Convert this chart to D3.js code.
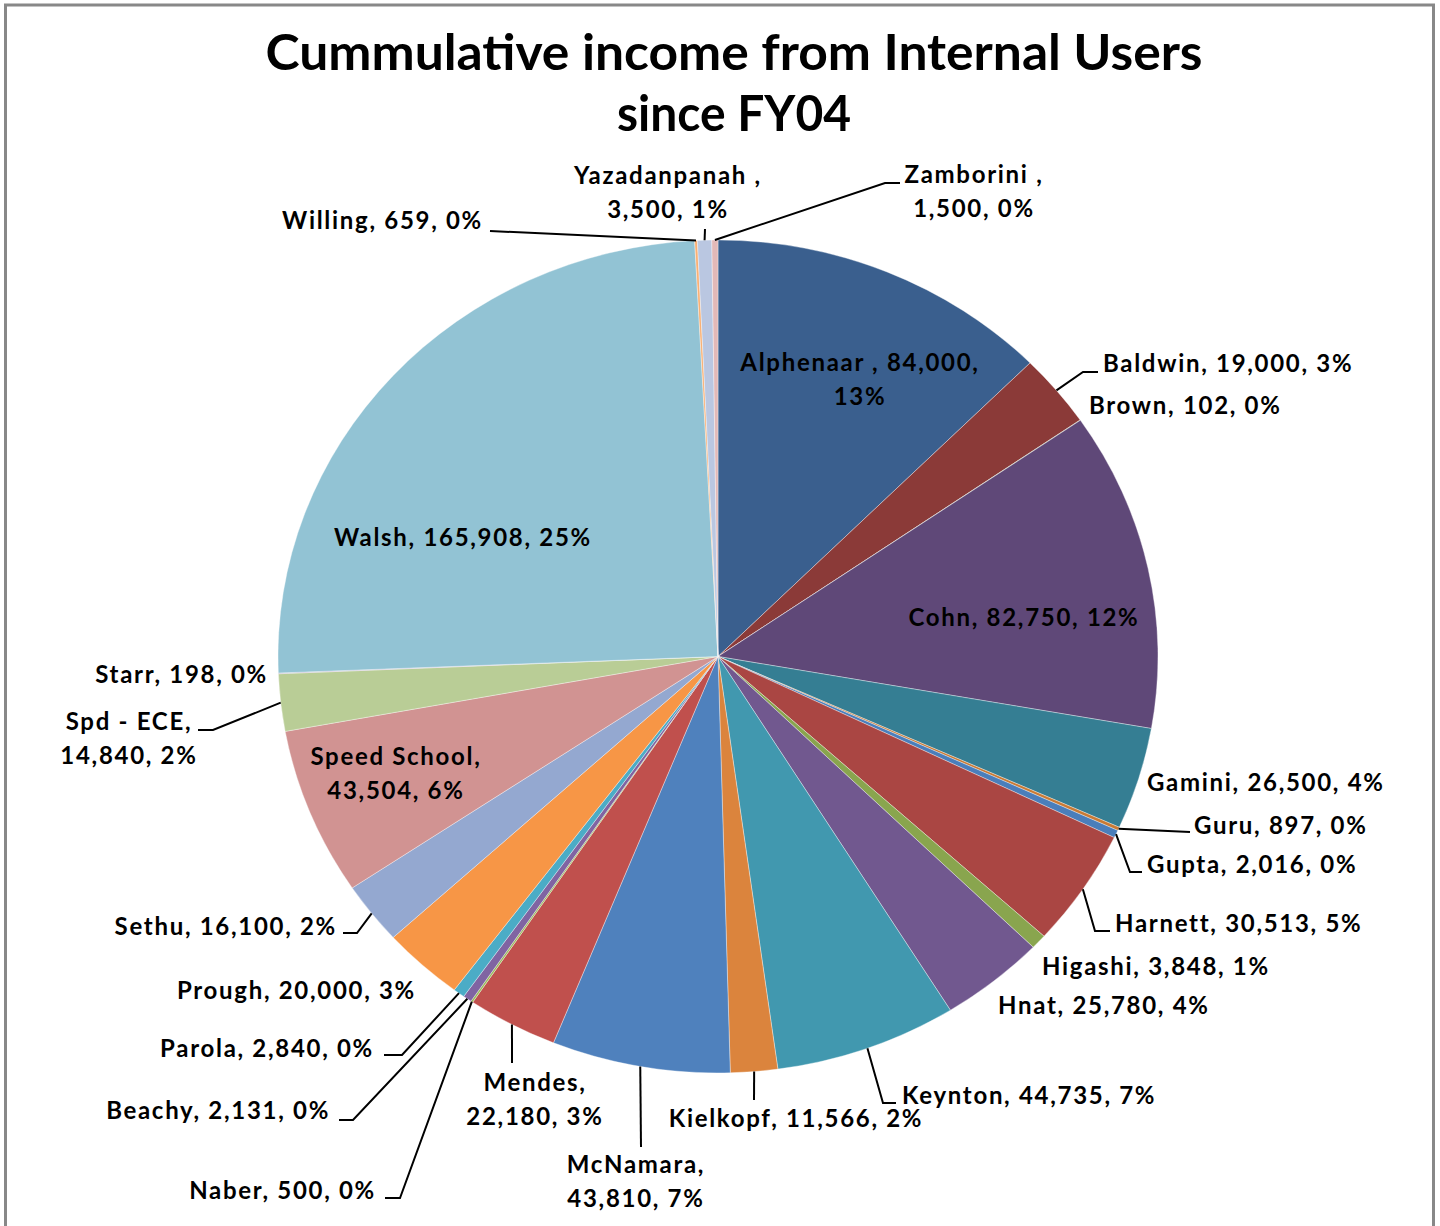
<!DOCTYPE html>
<html>
<head>
<meta charset="utf-8">
<script src="https://cdn.jsdelivr.net/npm/d3@7"></script>
<style>
  html, body { margin: 0; padding: 0; background: #fff; }
  svg { display: block; }
  text { font-family: Lato, "Open Sans", sans-serif; fill: #000; }
</style>
</head>
<body>
<svg id="chart" width="1440" height="1226"></svg>
<script>
// ---- Data ----
const names = ["Alphenaar ", "Baldwin", "Brown", "Cohn", "Gamini", "Guru", "Gupta", "Harnett",
  "Higashi", "Hnat", "Keynton", "Kielkopf", "McNamara", "Mendes", "Naber", "Beachy", "Parola",
  "Prough", "Sethu", "Speed School", "Spd - ECE", "Starr", "Walsh", "Willing", "Yazadanpanah ", "Zamborini "];
const values = [84000, 19000, 102, 82750, 26500, 897, 2016, 30513,
  3848, 25780, 44735, 11566, 43810, 22180, 500, 2131, 2840,
  20000, 16100, 43504, 14840, 198, 165908, 659, 3500, 1500];
const colors = ["#3A5F8E", "#8B3A38", "#71893F", "#5F4878", "#357E93", "#C97A34", "#4A7EBB", "#AA4643",
  "#89A54E", "#71588F", "#4198AF", "#DB843D", "#4F81BD", "#C0504D", "#9BBB59", "#8064A2", "#4BACC6",
  "#F79646", "#94A8D0", "#D19392", "#B9CD96", "#A99BBD", "#92C3D4", "#F9B074", "#BAC7E1", "#E2B9B8"];
const titleLines = ["Cummulative income from Internal Users", "since FY04"];

// ---- Layout (label placement, not data) ----
const W = 1440, H = 1226;
const cx = 718, cy = 656.5, rx = 440, ry = 416.5;
// split: 0 = one line, 1 = break after name, 2 = break after value
const labelLayout = {
  "Alphenaar ":   {x: 860, y: 362, anchor: "middle", split: 2},
  "Baldwin":      {x: 1103, y: 363, anchor: "start", split: 0, leader: [[1083, 372], [1098, 372]]},
  "Brown":        {x: 1089, y: 405, anchor: "start", split: 0},
  "Cohn":         {x: 1024, y: 617, anchor: "middle", split: 0},
  "Gamini":       {x: 1147, y: 782, anchor: "start", split: 0},
  "Guru":         {x: 1194, y: 825, anchor: "start", split: 0, leader: [[1190, 832]]},
  "Gupta":        {x: 1147, y: 864, anchor: "start", split: 0, leader: [[1130, 872], [1142, 872]]},
  "Harnett":      {x: 1115, y: 923, anchor: "start", split: 0, leader: [[1095, 931], [1110, 931]]},
  "Higashi":      {x: 1042, y: 966, anchor: "start", split: 0},
  "Hnat":         {x: 998, y: 1005, anchor: "start", split: 0},
  "Keynton":      {x: 902, y: 1095, anchor: "start", split: 0, leader: [[883, 1103], [896, 1103]]},
  "Kielkopf":     {x: 796, y: 1118, anchor: "middle", split: 0, leader: [[754, 1100]]},
  "McNamara":     {x: 636, y: 1164, anchor: "middle", split: 1, leader: [[641, 1147]]},
  "Mendes":       {x: 535, y: 1082, anchor: "middle", split: 1, leader: [[512, 1063]]},
  "Naber":        {x: 376, y: 1190, anchor: "end", split: 0, leader: [[400, 1198], [385, 1198]]},
  "Beachy":       {x: 330, y: 1110, anchor: "end", split: 0, leader: [[353, 1120], [339, 1120]]},
  "Parola":       {x: 374, y: 1048, anchor: "end", split: 0, leader: [[402, 1055], [384, 1055]]},
  "Prough":       {x: 416, y: 990, anchor: "end", split: 0},
  "Sethu":        {x: 337, y: 926, anchor: "end", split: 0, leader: [[357, 933], [343, 933]]},
  "Speed School": {x: 396, y: 756, anchor: "middle", split: 1},
  "Spd - ECE":    {x: 129, y: 721, anchor: "middle", split: 1, leader: [[213, 730], [198, 730]]},
  "Starr":        {x: 268, y: 674, anchor: "end", split: 0},
  "Walsh":        {x: 463, y: 537, anchor: "middle", split: 0},
  "Willing":      {x: 483, y: 220, anchor: "end", split: 0, leader: [[490, 231]]},
  "Yazadanpanah ":{x: 668, y: 175, anchor: "middle", split: 1, leader: [[705, 229]]},
  "Zamborini ":   {x: 974, y: 174, anchor: "middle", split: 1, leader: [[885, 183], [900, 183]]}
};

const svg = d3.select("#chart");

// frame
svg.append("rect").attr("x", 5.5).attr("y", 5).attr("width", 1428).attr("height", 1300)
  .attr("fill", "#fff").attr("stroke", "#888").attr("stroke-width", 3);

// title
svg.append("g").selectAll("text").data(titleLines).join("text")
  .attr("x", 734).attr("y", (d, i) => 70 + i * 61)
  .attr("text-anchor", "middle")
  .attr("font-size", 50).attr("font-weight", "bold")
  .attr("textLength", (d, i) => i === 0 ? 937 : 234)
  .attr("lengthAdjust", "spacingAndGlyphs")
  .text(d => d);

// pie
const data = names.map((n, i) => ({name: n, value: values[i], color: colors[i]}));
const total = d3.sum(values);
const pie = d3.pie().value(d => d.value).sort(null).startAngle(0).endAngle(2 * Math.PI);
const arcs = pie(data);
const arc = d3.arc().innerRadius(0).outerRadius(rx);

const pg = svg.append("g").attr("transform", `translate(${cx},${cy}) scale(1,${ry / rx})`);
pg.selectAll("path").data(arcs).join("path")
  .attr("d", arc)
  .attr("fill", d => d.data.color)
  .attr("stroke", "#ffffff").attr("stroke-opacity", 0.45)
  .attr("stroke-width", 0.8).attr("vector-effect", "non-scaling-stroke");

// labels
const fmt = d3.format(",");
const edgePoint = a => [cx + rx * Math.sin(a), cy - ry * Math.cos(a)];

const lg = svg.append("g");
arcs.forEach(a => {
  const L = labelLayout[a.data.name];
  if (!L) return;
  const pct = Math.round(a.data.value / total * 100) + "%";
  const nm = a.data.name + ",";
  const val = fmt(a.data.value) + ",";
  let lines;
  if (L.split === 0) lines = [nm + " " + val + " " + pct];
  else if (L.split === 1) lines = [nm, val + " " + pct];
  else lines = [nm + " " + val, pct];

  if (L.leader) {
    const mid = (a.startAngle + a.endAngle) / 2;
    const pts = [edgePoint(mid)].concat(L.leader);
    lg.append("path").attr("d", d3.line()(pts))
      .attr("fill", "none").attr("stroke", "#000").attr("stroke-width", 2);
  }
  const t = lg.append("text")
    .attr("text-anchor", L.anchor)
    .attr("font-size", 24).attr("font-weight", "bold")
    .attr("letter-spacing", "1.7px");
  lines.forEach((ln, i) => {
    t.append("tspan").attr("x", L.x).attr("y", L.y + i * 34).attr("dy", "0.36em").text(ln);
  });
});
</script>
</body>
</html>
